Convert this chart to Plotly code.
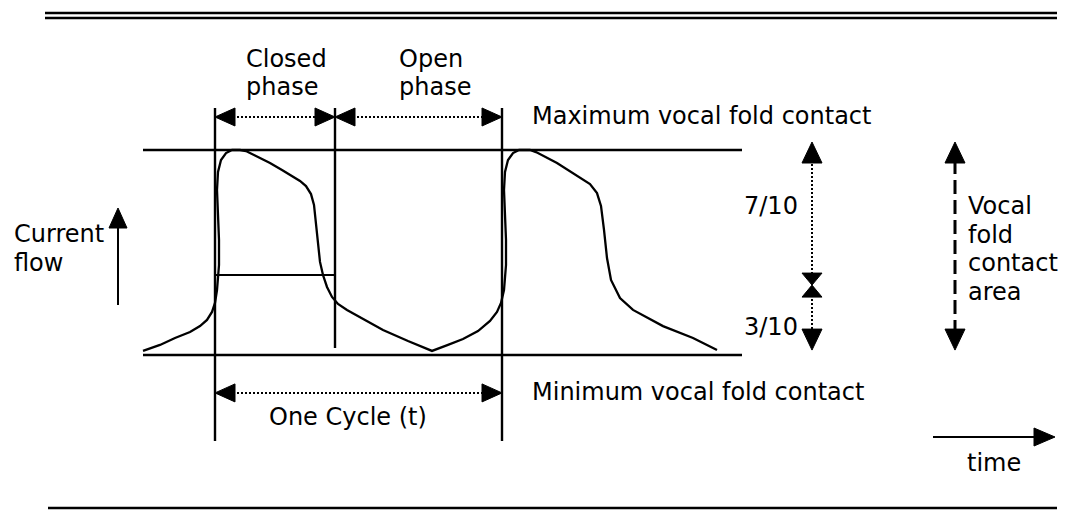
import plotly.graph_objects as go

# ---------------- data ----------------
# Electroglottograph waveform: time in samples (cycle starts at 0, period 287),
# contact in % (0 = minimum vocal fold contact, 100 = maximum)
wave_t = [-72, -55, -40, -25, -15, -8, -3, 0, 2, 4, 4, 3, 2, 3, 6, 11, 17, 25, 31, 43, 55, 67,
          78, 85, 91, 96, 99, 101, 103, 105, 108, 112, 117, 123, 132, 150, 168, 193, 217,
          233, 248, 263, 275, 282, 286, 289, 291, 291, 290, 289, 290, 293, 298, 304, 315,
          321, 342, 362, 375, 382, 386, 389, 392, 396, 405, 418, 448, 478, 502]
wave_c = [2.0, 4.9, 8.3, 11.2, 14.1, 17.1, 21.0, 25.4, 31.7, 43.9, 56.1, 68.3, 80.5, 89.3,
          95.1, 98.5, 100, 100, 99.5, 96.6, 93.7, 90.2, 86.8, 84.9, 82.4, 78.5, 73.2, 64.9,
          53.7, 45.4, 39.0, 33.2, 28.3, 24.9, 22.0, 17.1, 12.2, 6.8, 2.0, 4.9, 7.8, 11.7,
          16.6, 21.0, 25.4, 31.7, 43.9, 56.1, 68.3, 80.5, 89.3, 95.1, 98.5, 100, 100, 99.0,
          93.7, 87.3, 83.4, 79.0, 72.7, 61.0, 47.3, 36.6, 27.8, 22.0, 14.1, 8.3, 2.4]

cycle_marks = [0, 120, 287]          # closing instant, opening instant, next closing
contact_levels = [0, 100]            # minimum / maximum contact reference lines
threshold_level = 39.0               # closed-phase criterion line
split_level = 34.1                   # boundary between 7/10 and 3/10
labels_phase = ["Closed", "phase", "Open", "phase"]
label_max = "Maximum vocal fold contact"
label_min = "Minimum vocal fold contact"
label_cycle = "One Cycle (t)"
label_frac = ["7/10", "3/10"]
label_area = ["Vocal", "fold", "contact", "area"]
label_current = ["Current", "flow"]
label_time = "time"

# ---------------- geometry of the canvas ----------------
W, H = 1067, 511
X0, X1 = -215, 852
Y0, Y1 = -76.10, 173.17
SX = (X1 - X0) / W      # data units per pixel (x)
SY = (Y1 - Y0) / H      # data units per pixel (y)

FONT = "DejaVu Sans"
FS = 24
BLACK = "#000000"

fig = go.Figure()


def line(xs, ys, width=2.2, dash=None):
    fig.add_trace(go.Scatter(x=xs, y=ys, mode="lines", hoverinfo="skip",
                             line=dict(color=BLACK, width=width, dash=dash)))


def head(tx, ty, d, L=20, hw=9):
    if d == "r":
        xs = [tx, tx - L * SX, tx - L * SX, tx]
        ys = [ty, ty + hw * SY, ty - hw * SY, ty]
    elif d == "l":
        xs = [tx, tx + L * SX, tx + L * SX, tx]
        ys = [ty, ty + hw * SY, ty - hw * SY, ty]
    elif d == "u":
        xs = [tx, tx - hw * SX, tx + hw * SX, tx]
        ys = [ty, ty - L * SY, ty - L * SY, ty]
    else:
        xs = [tx, tx - hw * SX, tx + hw * SX, tx]
        ys = [ty, ty + L * SY, ty + L * SY, ty]
    fig.add_trace(go.Scatter(x=xs, y=ys, mode="lines", fill="toself", fillcolor=BLACK,
                             hoverinfo="skip", line=dict(color=BLACK, width=1)))


def harrow(xa, xb, y, L=20, hw=9):
    line([xa + L * SX * 0.9, xb - L * SX * 0.9], [y, y], width=2, dash="2px,2px")
    head(xa, y, "l", L, hw)
    head(xb, y, "r", L, hw)


# reference lines (max / min contact)
for lv in contact_levels:
    line([-72, 527], [lv, lv], width=2.4)

# cycle markers
top_c = 120.5
line([cycle_marks[0], cycle_marks[0]], [top_c, -42.0], width=2.4)
line([cycle_marks[1], cycle_marks[1]], [top_c, 3.4], width=2.4)
line([cycle_marks[2], cycle_marks[2]], [top_c, -42.0], width=2.4)

# threshold line inside the closed phase
line([cycle_marks[0], cycle_marks[1]], [threshold_level, threshold_level], width=2)

# waveform
line(wave_t, wave_c, width=2.3)

# phase arrows
harrow(cycle_marks[0], cycle_marks[1], 116.1)
harrow(cycle_marks[1], cycle_marks[2], 116.1)
harrow(cycle_marks[0], cycle_marks[2], -18.5)

# 7/10 and 3/10 arrows
xa = 597
line([xa, xa], [103.9 - 18 * SY, split_level + 10 * SY], width=2, dash="2px,2px")
head(xa, 103.9, "u", 21, 10)
head(xa, split_level, "d", 12, 10)
head(xa, split_level, "u", 12, 10)
line([xa, xa], [split_level - 10 * SY, 2.4 + 18 * SY], width=2, dash="2px,2px")
head(xa, 2.4, "d", 21, 10)

# vocal fold contact area arrow (dashed)
xv = 740
line([xv, xv], [103.9 - 18 * SY, 2.4 + 18 * SY], width=3, dash="14px,6px")
head(xv, 103.9, "u", 21, 10)
head(xv, 2.4, "d", 21, 10)

# current flow arrow
xc = -97
line([xc, xc], [24.4, 71.7 - 15 * SY], width=2)
head(xc, 71.7, "u", 20, 9)

# time arrow
yt = -40
line([718, 840 - 18 * SX], [yt, yt], width=2)
head(840, yt, "r", 21, 9)

# ---------------- texts ----------------
ann = []


def txt(x, y, s, xa="left"):
    ann.append(dict(x=x, y=y, xref="x", yref="y", text=s, showarrow=False,
                    xanchor=xa, yanchor="middle",
                    font=dict(family=FONT, size=FS, color=BLACK)))


def pyc(py):
    return (355 - py) / 2.05


txt(29, pyc(59), labels_phase[0])
txt(29, pyc(87), labels_phase[1])
txt(182, pyc(59), labels_phase[2])
txt(182, pyc(87), labels_phase[3])
txt(315, pyc(116), label_max)
txt(315, pyc(392), label_min)
txt(133, pyc(417), label_cycle, "center")
txt(585, pyc(206), label_frac[0], "right")
txt(585, pyc(327), label_frac[1], "right")
for i, s in enumerate(label_area):
    txt(751, pyc(206 + 28.5 * i), s)
txt(-203, pyc(234), label_current[0])
txt(-203, pyc(263), label_current[1])
txt(779, pyc(463), label_time, "center")

# frame lines (top double rule, bottom rule)
shapes = [
    dict(type="line", xref="paper", yref="paper", x0=45 / W, x1=1057 / W,
         y0=1 - 13 / H, y1=1 - 13 / H, line=dict(color=BLACK, width=2.5)),
    dict(type="line", xref="paper", yref="paper", x0=45 / W, x1=1057 / W,
         y0=1 - 18 / H, y1=1 - 18 / H, line=dict(color=BLACK, width=2.5)),
    dict(type="line", xref="paper", yref="paper", x0=48 / W, x1=1057 / W,
         y0=1 - 508 / H, y1=1 - 508 / H, line=dict(color=BLACK, width=2.5)),
]

fig.update_layout(
    width=W, height=H, autosize=False,
    margin=dict(l=0, r=0, t=0, b=0, pad=0),
    paper_bgcolor="white", plot_bgcolor="white",
    showlegend=False,
    xaxis=dict(range=[X0, X1], visible=False, showgrid=False, zeroline=False, fixedrange=True),
    yaxis=dict(range=[Y0, Y1], visible=False, showgrid=False, zeroline=False, fixedrange=True),
    annotations=ann, shapes=shapes,
)

fig.write_html(
    "out.html",
    config={"displayModeBar": False},
    post_script="document.body.style.margin='0px';document.body.style.overflow='hidden';",
)
